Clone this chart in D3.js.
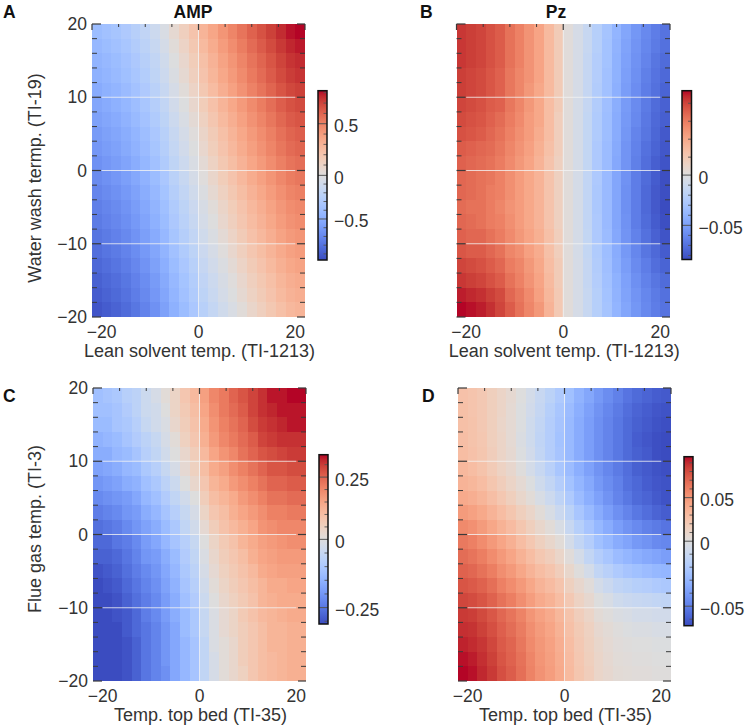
<!DOCTYPE html>
<html><head><meta charset="utf-8">
<script src="https://cdn.jsdelivr.net/npm/d3@7"></script>
<style>body{margin:0;background:#fff}svg{display:block}text{font-family:"Liberation Sans",Arial,Helvetica,sans-serif}</style>
</head><body><svg id="c" width="750" height="728"></svg>
<script>
const xCenters = [-21,-19,-17,-15,-13,-11,-9,-7,-5,-3,-1,1,3,5,7,9,11,13,15,17,19,21];
const yCenters = [19,17,15,13,11,9,7,5,3,1,-1,-3,-5,-7,-9,-11,-13,-15,-17,-19];
const xTickLabels = [-20,0,20];
const yTickLabels = [20,10,0,-10,-20];

const ampLeanWash = [
[-0.40,-0.37,-0.34,-0.30,-0.25,-0.19,-0.12,-0.04,0.05,0.13,0.21,0.29,0.36,0.43,0.49,0.55,0.61,0.66,0.71,0.76,0.80,0.82],
[-0.43,-0.40,-0.37,-0.33,-0.28,-0.22,-0.15,-0.07,0.02,0.10,0.18,0.26,0.33,0.40,0.46,0.52,0.58,0.63,0.68,0.73,0.77,0.79],
[-0.46,-0.43,-0.40,-0.36,-0.31,-0.25,-0.18,-0.10,-0.01,0.07,0.15,0.23,0.30,0.37,0.43,0.49,0.55,0.60,0.65,0.70,0.74,0.76],
[-0.48,-0.45,-0.42,-0.38,-0.33,-0.27,-0.20,-0.12,-0.03,0.05,0.13,0.21,0.28,0.35,0.41,0.47,0.53,0.58,0.63,0.68,0.72,0.74],
[-0.51,-0.48,-0.45,-0.41,-0.36,-0.30,-0.23,-0.15,-0.06,0.02,0.10,0.18,0.25,0.32,0.38,0.44,0.50,0.55,0.60,0.65,0.69,0.71],
[-0.54,-0.51,-0.48,-0.44,-0.39,-0.33,-0.26,-0.18,-0.09,-0.01,0.07,0.15,0.22,0.29,0.35,0.41,0.47,0.52,0.57,0.62,0.66,0.68],
[-0.57,-0.54,-0.51,-0.47,-0.42,-0.36,-0.29,-0.21,-0.12,-0.04,0.04,0.12,0.19,0.26,0.32,0.38,0.44,0.49,0.54,0.59,0.63,0.65],
[-0.60,-0.57,-0.54,-0.50,-0.45,-0.39,-0.32,-0.24,-0.15,-0.07,0.01,0.09,0.16,0.23,0.29,0.35,0.41,0.46,0.51,0.56,0.60,0.62],
[-0.62,-0.59,-0.56,-0.52,-0.47,-0.41,-0.34,-0.26,-0.17,-0.09,-0.01,0.07,0.14,0.21,0.27,0.33,0.39,0.44,0.49,0.54,0.58,0.60],
[-0.65,-0.62,-0.59,-0.55,-0.50,-0.44,-0.37,-0.29,-0.20,-0.12,-0.04,0.04,0.11,0.18,0.24,0.30,0.36,0.41,0.46,0.51,0.55,0.57],
[-0.68,-0.65,-0.62,-0.58,-0.53,-0.47,-0.40,-0.32,-0.23,-0.15,-0.07,0.01,0.08,0.15,0.21,0.27,0.33,0.38,0.43,0.48,0.52,0.54],
[-0.71,-0.68,-0.65,-0.61,-0.56,-0.50,-0.43,-0.35,-0.26,-0.18,-0.10,-0.02,0.05,0.12,0.18,0.24,0.30,0.35,0.40,0.45,0.49,0.51],
[-0.74,-0.71,-0.68,-0.64,-0.59,-0.53,-0.46,-0.38,-0.29,-0.21,-0.13,-0.05,0.02,0.09,0.15,0.21,0.27,0.32,0.37,0.42,0.46,0.48],
[-0.76,-0.73,-0.70,-0.66,-0.61,-0.55,-0.48,-0.40,-0.31,-0.23,-0.15,-0.07,0.00,0.07,0.13,0.19,0.25,0.30,0.35,0.40,0.44,0.46],
[-0.79,-0.76,-0.73,-0.69,-0.64,-0.58,-0.51,-0.43,-0.34,-0.26,-0.18,-0.10,-0.03,0.04,0.10,0.16,0.22,0.27,0.32,0.37,0.41,0.43],
[-0.82,-0.79,-0.76,-0.72,-0.67,-0.61,-0.54,-0.46,-0.37,-0.29,-0.21,-0.13,-0.06,0.01,0.07,0.13,0.19,0.24,0.29,0.34,0.38,0.40],
[-0.85,-0.82,-0.79,-0.75,-0.70,-0.64,-0.57,-0.49,-0.40,-0.32,-0.24,-0.16,-0.09,-0.02,0.04,0.10,0.16,0.21,0.26,0.31,0.35,0.37],
[-0.88,-0.85,-0.82,-0.78,-0.73,-0.67,-0.60,-0.52,-0.43,-0.35,-0.27,-0.19,-0.12,-0.05,0.01,0.07,0.13,0.18,0.23,0.28,0.32,0.34],
[-0.90,-0.87,-0.84,-0.80,-0.75,-0.69,-0.62,-0.54,-0.45,-0.37,-0.29,-0.21,-0.14,-0.07,-0.01,0.05,0.11,0.16,0.21,0.26,0.30,0.32],
[-0.93,-0.90,-0.87,-0.83,-0.78,-0.72,-0.65,-0.57,-0.48,-0.40,-0.32,-0.24,-0.17,-0.10,-0.04,0.02,0.08,0.13,0.18,0.23,0.27,0.29]
];

const pzLeanWash = [
[.042,.041,.040,.038,.036,.032,.029,.025,.021,.015,.009,.001,-.005,-.013,-.022,-.030,-.039,-.047,-.054,-.060,-.065,-.069],
[.042,.041,.040,.038,.036,.032,.029,.025,.021,.015,.009,.001,-.005,-.013,-.022,-.031,-.040,-.048,-.055,-.061,-.066,-.070],
[.042,.041,.040,.038,.036,.032,.029,.025,.021,.015,.009,.001,-.005,-.014,-.023,-.031,-.041,-.049,-.056,-.062,-.068,-.072],
[.041,.040,.039,.037,.035,.031,.028,.025,.021,.015,.009,.001,-.005,-.014,-.023,-.032,-.041,-.050,-.057,-.064,-.069,-.073],
[.041,.040,.039,.037,.035,.031,.028,.024,.020,.015,.009,.001,-.005,-.014,-.024,-.032,-.042,-.051,-.058,-.065,-.070,-.075],
[.040,.039,.038,.036,.035,.031,.028,.024,.020,.014,.009,.001,-.006,-.014,-.024,-.033,-.043,-.052,-.059,-.066,-.072,-.076],
[.039,.038,.037,.035,.033,.030,.027,.023,.020,.014,.008,.001,-.006,-.015,-.025,-.034,-.044,-.053,-.060,-.067,-.073,-.077],
[.038,.037,.036,.034,.032,.029,.026,.023,.019,.014,.008,.001,-.006,-.015,-.025,-.034,-.044,-.054,-.062,-.068,-.074,-.079],
[.036,.035,.034,.033,.031,.028,.025,.022,.018,.013,.008,.001,-.006,-.015,-.026,-.035,-.045,-.055,-.063,-.070,-.075,-.080],
[.035,.034,.033,.032,.030,.027,.024,.021,.017,.012,.007,.001,-.006,-.015,-.026,-.035,-.046,-.055,-.064,-.071,-.077,-.081],
[.034,.033,.032,.031,.029,.026,.023,.020,.017,.012,.007,.001,-.006,-.016,-.026,-.036,-.047,-.056,-.065,-.072,-.078,-.083],
[.034,.033,.032,.030,.029,.026,.023,.020,.017,.012,.007,.001,-.006,-.016,-.027,-.036,-.047,-.057,-.065,-.073,-.079,-.083],
[.033,.032,.032,.030,.028,.025,.023,.020,.017,.012,.007,.001,-.006,-.016,-.027,-.036,-.047,-.057,-.065,-.073,-.079,-.084],
[.034,.033,.032,.030,.029,.026,.023,.020,.017,.012,.007,.001,-.006,-.016,-.026,-.036,-.047,-.056,-.065,-.072,-.078,-.083],
[.035,.034,.034,.032,.030,.027,.024,.021,.018,.013,.008,.001,-.006,-.015,-.026,-.035,-.046,-.055,-.063,-.070,-.076,-.081],
[.037,.036,.036,.034,.032,.028,.026,.022,.019,.013,.008,.001,-.006,-.015,-.025,-.034,-.044,-.053,-.061,-.068,-.073,-.078],
[.040,.039,.038,.036,.034,.030,.028,.024,.020,.014,.009,.001,-.005,-.014,-.024,-.033,-.043,-.051,-.059,-.065,-.071,-.075],
[.042,.041,.040,.038,.036,.032,.029,.025,.021,.015,.009,.001,-.005,-.014,-.023,-.032,-.041,-.049,-.057,-.063,-.068,-.072],
[.045,.044,.043,.041,.039,.034,.031,.027,.022,.016,.010,.001,-.005,-.013,-.022,-.031,-.040,-.048,-.055,-.061,-.066,-.070],
[.047,.046,.045,.043,.040,.036,.032,.028,.024,.017,.010,.001,-.005,-.013,-.022,-.030,-.039,-.047,-.054,-.060,-.065,-.069]
];

const ampTopFlue = [
[-0.12,-0.11,-0.10,-0.08,-0.07,-0.04,-0.02,0.01,0.04,0.08,0.11,0.16,0.20,0.22,0.25,0.27,0.29,0.31,0.33,0.33,0.34,0.34],
[-0.12,-0.12,-0.11,-0.09,-0.07,-0.04,-0.03,0.00,0.04,0.07,0.10,0.15,0.19,0.22,0.24,0.26,0.29,0.31,0.32,0.33,0.33,0.33],
[-0.13,-0.13,-0.11,-0.10,-0.08,-0.05,-0.03,-0.01,0.03,0.06,0.09,0.14,0.18,0.21,0.23,0.25,0.28,0.30,0.31,0.32,0.33,0.33],
[-0.15,-0.14,-0.13,-0.11,-0.09,-0.07,-0.05,-0.02,0.01,0.05,0.08,0.13,0.17,0.20,0.22,0.24,0.26,0.29,0.30,0.31,0.31,0.31],
[-0.16,-0.16,-0.14,-0.13,-0.11,-0.08,-0.06,-0.03,0.00,0.03,0.06,0.11,0.15,0.18,0.20,0.23,0.25,0.27,0.28,0.29,0.30,0.30],
[-0.18,-0.17,-0.16,-0.14,-0.13,-0.10,-0.08,-0.05,-0.02,0.02,0.05,0.10,0.14,0.16,0.19,0.21,0.23,0.25,0.27,0.27,0.28,0.28],
[-0.20,-0.19,-0.18,-0.16,-0.15,-0.12,-0.10,-0.07,-0.04,0.00,0.03,0.08,0.12,0.14,0.17,0.19,0.21,0.23,0.25,0.25,0.26,0.26],
[-0.22,-0.21,-0.20,-0.19,-0.17,-0.14,-0.12,-0.09,-0.06,-0.03,0.00,0.06,0.10,0.12,0.14,0.17,0.19,0.21,0.23,0.23,0.24,0.24],
[-0.24,-0.23,-0.22,-0.20,-0.19,-0.16,-0.14,-0.11,-0.08,-0.05,-0.02,0.04,0.08,0.10,0.13,0.15,0.17,0.19,0.21,0.21,0.22,0.22],
[-0.26,-0.25,-0.24,-0.22,-0.20,-0.18,-0.16,-0.13,-0.10,-0.06,-0.03,0.02,0.06,0.09,0.11,0.13,0.15,0.18,0.19,0.20,0.20,0.20],
[-0.27,-0.27,-0.25,-0.24,-0.22,-0.19,-0.17,-0.14,-0.11,-0.08,-0.05,0.00,0.04,0.07,0.09,0.12,0.14,0.16,0.17,0.18,0.19,0.19],
[-0.28,-0.28,-0.27,-0.25,-0.23,-0.20,-0.19,-0.16,-0.13,-0.09,-0.06,-0.01,0.03,0.06,0.08,0.10,0.13,0.15,0.16,0.17,0.17,0.17],
[-0.30,-0.29,-0.28,-0.26,-0.24,-0.22,-0.20,-0.17,-0.14,-0.10,-0.07,-0.02,0.02,0.05,0.07,0.09,0.11,0.14,0.15,0.16,0.16,0.16],
[-0.31,-0.30,-0.29,-0.27,-0.25,-0.23,-0.21,-0.18,-0.15,-0.11,-0.08,-0.03,0.01,0.04,0.06,0.08,0.10,0.12,0.14,0.14,0.15,0.15],
[-0.31,-0.31,-0.30,-0.28,-0.26,-0.24,-0.22,-0.19,-0.16,-0.12,-0.09,-0.04,0.00,0.03,0.05,0.07,0.09,0.12,0.13,0.14,0.14,0.14],
[-0.31,-0.31,-0.30,-0.29,-0.27,-0.24,-0.22,-0.19,-0.16,-0.13,-0.10,-0.05,-0.01,0.02,0.04,0.07,0.09,0.11,0.12,0.13,0.14,0.14],
[-0.31,-0.31,-0.31,-0.29,-0.27,-0.25,-0.23,-0.20,-0.17,-0.13,-0.10,-0.05,-0.01,0.02,0.04,0.06,0.08,0.10,0.12,0.12,0.13,0.13],
[-0.31,-0.31,-0.31,-0.30,-0.28,-0.25,-0.23,-0.20,-0.17,-0.14,-0.11,-0.06,-0.01,0.01,0.03,0.06,0.08,0.10,0.12,0.12,0.13,0.13],
[-0.31,-0.31,-0.31,-0.30,-0.28,-0.25,-0.23,-0.20,-0.17,-0.14,-0.11,-0.06,-0.02,0.01,0.03,0.06,0.08,0.10,0.11,0.12,0.13,0.13],
[-0.31,-0.31,-0.31,-0.30,-0.28,-0.25,-0.23,-0.21,-0.17,-0.14,-0.11,-0.06,-0.02,0.01,0.03,0.05,0.08,0.10,0.11,0.12,0.13,0.13]
];

const pzTopFlue = [
[.026,.024,.021,.016,.011,.006,0,-.005,-.010,-.015,-.020,-.025,-.031,-.036,-.041,-.045,-.049,-.053,-.056,-.058,-.060,-.061],
[.027,.024,.021,.016,.011,.005,-.001,-.006,-.011,-.017,-.022,-.027,-.033,-.038,-.043,-.047,-.051,-.055,-.058,-.060,-.062,-.063],
[.027,.025,.021,.016,.010,.005,-.001,-.007,-.012,-.018,-.023,-.028,-.034,-.039,-.044,-.048,-.052,-.056,-.059,-.061,-.063,-.064],
[.028,.025,.022,.016,.011,.005,-.002,-.007,-.013,-.018,-.024,-.028,-.034,-.039,-.044,-.048,-.052,-.056,-.060,-.062,-.064,-.065],
[.029,.026,.023,.017,.011,.006,-.001,-.006,-.012,-.018,-.023,-.028,-.034,-.039,-.044,-.048,-.052,-.056,-.059,-.061,-.064,-.065],
[.032,.029,.025,.019,.013,.008,.001,-.005,-.010,-.016,-.022,-.027,-.033,-.038,-.043,-.047,-.051,-.055,-.059,-.061,-.063,-.064],
[.035,.033,.029,.023,.017,.011,.005,-.001,-.007,-.012,-.018,-.024,-.030,-.035,-.041,-.045,-.049,-.054,-.057,-.060,-.062,-.063],
[.040,.038,.034,.028,.022,.016,.009,.003,-.003,-.008,-.014,-.020,-.027,-.033,-.038,-.043,-.048,-.052,-.056,-.058,-.061,-.063],
[.048,.045,.041,.035,.029,.023,.016,.010,.003,-.003,-.009,-.015,-.022,-.028,-.034,-.039,-.044,-.048,-.052,-.055,-.058,-.060],
[.056,.053,.048,.042,.036,.030,.023,.016,.009,.003,-.003,-.010,-.017,-.023,-.029,-.034,-.039,-.043,-.046,-.049,-.051,-.053],
[.063,.060,.055,.049,.043,.037,.029,.022,.015,.009,.003,-.005,-.012,-.018,-.025,-.029,-.034,-.037,-.041,-.043,-.046,-.047],
[.068,.065,.061,.055,.049,.043,.036,.029,.022,.017,.010,.002,-.005,-.012,-.018,-.022,-.027,-.030,-.033,-.035,-.037,-.039],
[.072,.070,.066,.061,.054,.049,.042,.035,.029,.024,.017,.009,.001,-.005,-.012,-.016,-.020,-.023,-.025,-.027,-.029,-.030],
[.077,.075,.072,.067,.060,.055,.049,.042,.035,.030,.024,.015,.008,.002,-.005,-.009,-.013,-.015,-.017,-.018,-.020,-.021],
[.082,.080,.077,.072,.066,.061,.054,.047,.040,.036,.029,.021,.013,.007,0,-.003,-.007,-.009,-.010,-.011,-.012,-.013],
[.086,.085,.081,.076,.070,.065,.059,.051,.045,.040,.033,.025,.017,.011,.004,.001,-.002,-.003,-.005,-.005,-.006,-.006],
[.089,.088,.084,.079,.073,.068,.062,.054,.048,.043,.036,.027,.020,.014,.007,.004,.001,-.001,-.002,-.002,-.003,-.003],
[.092,.090,.087,.082,.075,.071,.064,.056,.050,.045,.038,.029,.021,.015,.009,.005,.002,.001,0,0,-.001,-.001],
[.095,.093,.089,.084,.077,.072,.066,.058,.051,.046,.039,.030,.022,.016,.010,.006,.003,.002,.001,.001,0,0],
[.097,.095,.091,.086,.079,.074,.067,.059,.052,.047,.040,.031,.023,.017,.010,.007,.004,.003,.002,.002,.001,.001]
];

const panelData = [ampLeanWash, pzLeanWash, ampTopFlue, pzTopFlue];
const panelLetters = ["A","B","C","D"];
const panelTitles = ["AMP","Pz","",""];
const xAxisTitles = ["Lean solvent temp. (TI-1213)","Lean solvent temp. (TI-1213)","Temp. top bed (TI-35)","Temp. top bed (TI-35)"];
const yAxisTitles = ["Water wash termp. (TI-19)","","Flue gas temp. (TI-3)",""];
const cbarMin = [-0.97,-0.084,-0.31,-0.065];
const cbarMax = [0.82,0.047,0.34,0.097];
const cbarTicks = [[0.5,0,-0.5],[0,-0.05],[0.25,0,-0.25],[0.05,0,-0.05]];
const cbarMinorStep = [0.1,0.01,0.05,0.01];

// matplotlib "coolwarm" (Moreland) colour table, 33 entries
const coolwarmTable = [
[59,76,192],[68,90,204],[77,104,215],[87,117,225],[98,130,234],[108,142,241],[119,154,247],[130,165,251],
[141,176,254],[152,185,255],[163,194,255],[174,201,253],[184,208,249],[194,213,244],[204,217,238],[213,219,230],
[221,221,221],[229,216,209],[236,211,197],[241,204,184],[245,196,173],[247,187,160],[247,177,148],[247,166,135],
[244,154,123],[241,141,111],[236,127,99],[229,112,88],[222,96,77],[213,80,66],[203,62,56],[192,40,47],[180,4,38]];

// layout
const layout = [
 {x0:92,  x1:305, y0:24,  y1:317, cb:[318,327,90.7,260],   letter:[3,18],   titleX:193, ylabX:41, ylabY:178},
 {x0:456.5,x1:670,y0:24,  y1:317, cb:[682,691.5,90.7,259.5],letter:[420,18], titleX:556, ylabX:0, ylabY:0},
 {x0:93,  x1:306, y0:388, y1:681, cb:[319,328,454.7,624],   letter:[3,402],  titleX:0, ylabX:41, ylabY:529},
 {x0:458, x1:671, y0:388, y1:681, cb:[684,693,456.7,625.7], letter:[422,402],titleX:0, ylabX:0, ylabY:0}
];

const cmap = d3.scaleLinear()
  .domain(coolwarmTable.map((_, i) => i / (coolwarmTable.length - 1)))
  .range(coolwarmTable.map(c => d3.rgb(c[0], c[1], c[2]).toString()))
  .interpolate(d3.interpolateRgb)
  .clamp(true);

const svg = d3.select("#c");
const defs = svg.append("defs");
const grad = defs.append("linearGradient").attr("id","cw").attr("x1",0).attr("y1",1).attr("x2",0).attr("y2",0);
coolwarmTable.forEach((c, i) => grad.append("stop")
  .attr("offset", i / (coolwarmTable.length - 1))
  .attr("stop-color", d3.rgb(c[0], c[1], c[2]).toString()));

const fmt = v => (v < 0 ? "\u2212" : "") + String(Math.abs(v));
const TXT = "#333";
const TICK = "#3a3a3a";

panelData.forEach((data, p) => {
  const L = layout[p];
  const vmin = cbarMin[p], vmax = cbarMax[p];
  const norm = v => v >= 0 ? 0.5 + 0.5 * Math.min(v / vmax, 1) : 0.5 - 0.5 * Math.min(v / vmin, 1);
  const x = d3.scaleLinear().domain([-22, 22]).range([L.x0, L.x1]);
  const y = d3.scaleLinear().domain([-20, 20]).range([L.y1, L.y0]);
  const g = svg.append("g");

  // cells
  const cells = [];
  data.forEach((row, r) => row.forEach((v, c) => cells.push({xc: xCenters[c], yc: yCenters[r], v})));
  g.selectAll("rect.cell").data(cells).join("rect")
    .attr("x", d => x(d.xc - 1))
    .attr("y", d => y(d.yc + 1))
    .attr("width", d => x(d.xc + 1) - x(d.xc - 1) + 0.4)
    .attr("height", d => y(d.yc - 1) - y(d.yc + 1) + 0.4)
    .attr("fill", d => cmap(norm(d.v)))
    .attr("shape-rendering", "crispEdges");

  // white grid lines
  [10, 0, -10].forEach(yv => g.append("line")
    .attr("x1", x(-20)).attr("x2", x(20)).attr("y1", y(yv)).attr("y2", y(yv))
    .attr("stroke", "#f2f2f2").attr("stroke-opacity", 0.8).attr("stroke-width", 1));
  g.append("line").attr("x1", x(0)).attr("x2", x(0)).attr("y1", y(20)).attr("y2", y(-20))
    .attr("stroke", "#f2f2f2").attr("stroke-opacity", 0.8).attr("stroke-width", 1);

  // inward ticks: left/right every 2 units
  d3.range(-20, 21, 2).forEach(t => {
    const major = t % 10 === 0;
    g.append("line").attr("x1", L.x0).attr("x2", L.x0 + (major ? 9 : 5))
      .attr("y1", y(t)).attr("y2", y(t)).attr("stroke", TICK).attr("stroke-width", major ? 1.2 : 1);
    g.append("line").attr("x1", L.x1).attr("x2", L.x1 - (major ? 8 : 5))
      .attr("y1", y(t)).attr("y2", y(t)).attr("stroke", TICK).attr("stroke-width", major ? 1.2 : 1);
  });
  // top ticks (8 equal divisions of the x range)
  d3.range(9).forEach(i => {
    const xv = -22 + i * 5.5;
    const major = (i === 0 || i === 4 || i === 8);
    g.append("line").attr("x1", x(xv)).attr("x2", x(xv)).attr("y1", L.y0).attr("y2", L.y0 + (major ? 6 : 3))
      .attr("stroke", TICK).attr("stroke-width", major ? 1.2 : 1);
  });

  // tick labels
  xTickLabels.forEach(t => g.append("text").attr("x", x(t)).attr("y", L.y1 + 21)
    .attr("text-anchor", "middle").attr("font-size", 17.5).attr("fill", TXT).text(fmt(t)));
  if (yAxisTitles[p]) {
    yTickLabels.forEach(t => g.append("text").attr("x", L.x0 - 5).attr("y", y(t) + 6)
      .attr("text-anchor", "end").attr("font-size", 17.5).attr("fill", TXT).text(fmt(t)));
    g.append("text").attr("transform", `translate(${L.ylabX},${L.ylabY}) rotate(-90)`)
      .attr("text-anchor", "middle").attr("font-size", 18).attr("fill", TXT).text(yAxisTitles[p]);
  }
  g.append("text").attr("x", (L.x0 + L.x1) / 2 + 1).attr("y", L.y1 + 40)
    .attr("text-anchor", "middle").attr("font-size", 18).attr("fill", TXT).text(xAxisTitles[p]);

  // panel letter & title
  g.append("text").attr("x", L.letter[0]).attr("y", L.letter[1]).attr("font-size", 17.5)
    .attr("font-weight", "bold").attr("fill", "#111").text(panelLetters[p]);
  if (panelTitles[p]) g.append("text").attr("x", L.titleX).attr("y", 18).attr("text-anchor", "middle")
    .attr("font-size", 17.5).attr("font-weight", "bold").attr("fill", "#111").text(panelTitles[p]);

  // colour bar
  const [cx0, cx1, cy0, cy1] = L.cb;
  const cmid = (cy0 + cy1) / 2;
  const cbY = v => v >= 0 ? cmid - (cmid - cy0) * v / vmax : cmid + (cy1 - cmid) * v / vmin;
  g.append("rect").attr("x", cx0).attr("y", cy0).attr("width", cx1 - cx0).attr("height", cy1 - cy0)
    .attr("fill", "url(#cw)");
  const minor = [];
  for (let k = Math.ceil(vmin / cbarMinorStep[p] - 1e-9); k <= Math.floor(vmax / cbarMinorStep[p] + 1e-9); k++) minor.push(k * cbarMinorStep[p]);
  minor.forEach(v => {
    if (cbarTicks[p].some(t => Math.abs(t - v) < 1e-9)) return;
    g.append("line").attr("x1", cx1 - 3.5).attr("x2", cx1).attr("y1", cbY(v)).attr("y2", cbY(v))
      .attr("stroke", "#555").attr("stroke-width", 0.9);
  });
  cbarTicks[p].forEach(v => {
    g.append("line").attr("x1", cx0).attr("x2", cx1).attr("y1", cbY(v)).attr("y2", cbY(v))
      .attr("stroke", "#555").attr("stroke-width", 1);
    g.append("text").attr("x", cx1 + 7).attr("y", cbY(v) + 8.5).attr("font-size", 17.5)
      .attr("fill", TXT).text(fmt(v));
  });
  g.append("rect").attr("x", cx0).attr("y", cy0).attr("width", cx1 - cx0).attr("height", cy1 - cy0)
    .attr("fill", "none").attr("stroke", "#111").attr("stroke-width", 1.5);
});
</script></body></html>
